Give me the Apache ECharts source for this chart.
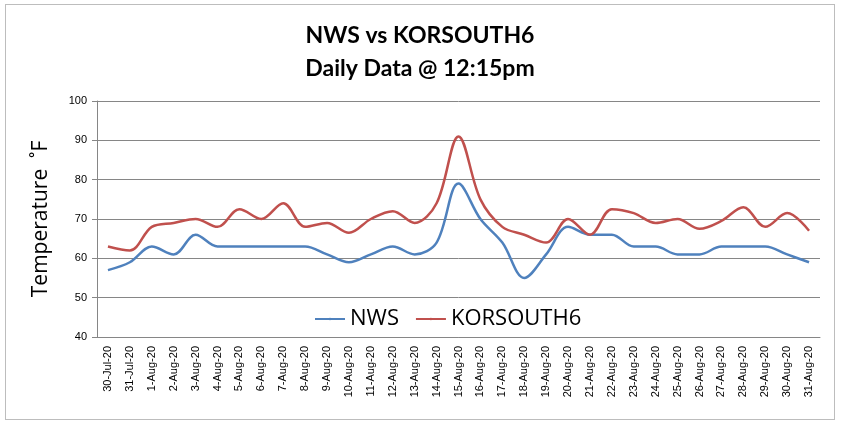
<!DOCTYPE html>
<html>
<head>
<meta charset="utf-8">
<script src="https://cdn.jsdelivr.net/npm/echarts@6/dist/echarts.min.js"></script>
<style>
    html, body { margin: 0; padding: 0; background: #fff; }
    #chart { position: absolute; left: 5px; top: 4px; width: 830px; height: 416px; border: 1px solid #bdbdbd; box-sizing: border-box; }
</style>
</head>
<body>
<div id="chart"></div>
<script>
// 日期
const days = ["30-Jul-20", "31-Jul-20"];
for (let d = 1; d <= 31; d++) days.push(d + "-Aug-20");

// 温度 (°F)
const nws = [57, 59, 63, 61, 66, 63, 63, 63, 63, 63, 61, 59, 61, 63, 61, 64, 79,
             70, 64, 55, 61, 68, 66, 66, 63, 63, 61, 61, 63, 63, 63, 61, 59];
const korsouth6 = [63, 62, 68, 69, 70, 68, 72.5, 70, 74, 68, 69, 66.5, 70, 72, 69, 74, 91,
                   75, 68, 66, 64, 70, 66, 72.5, 71.5, 69, 70, 67.5, 69.5, 73, 68, 71.5, 67];

const yTicks = { min: 40, max: 100, interval: 10 };

let chart = echarts.init(document.getElementById("chart"));
chart.setOption({
    animation: false,
    title: {
        text: "NWS vs KORSOUTH6\nDaily Data @ 12:15pm",
        left: "center",
        top: 9,
        textStyle: { fontFamily: "Lato", fontWeight: "bold", fontSize: 23, lineHeight: 33, color: "#000" }
    },
    legend: {
        data: ["NWS", "KORSOUTH6"],
        left: 303,
        top: 298,
        itemWidth: 30,
        itemHeight: 3,
        itemGap: 16,
        textStyle: { fontFamily: "Open Sans", fontSize: 22, color: "#000" }
    },
    grid: { left: 91, right: 14, top: 96, bottom: 82 },
    xAxis: {
        type: "category",
        data: days,
        boundaryGap: true,
        axisLine: { lineStyle: { color: "#868686" } },
        axisTick: { lineStyle: { color: "#868686" }, length: 5, interval: 0 },
        axisLabel: { rotate: 90, interval: 0, fontSize: 11, fontFamily: "Liberation Sans", color: "#000", margin: 9 }
    },
    yAxis: {
        type: "value",
        min: yTicks.min,
        max: yTicks.max,
        interval: yTicks.interval,
        name: "Temperature  ˚F",
        nameLocation: "middle",
        nameGap: 45,
        nameTextStyle: { fontFamily: "Open Sans", fontSize: 21, color: "#000" },
        axisLine: { show: true, lineStyle: { color: "#868686" } },
        axisTick: { show: true, length: 5, lineStyle: { color: "#868686" } },
        axisLabel: { fontSize: 11, fontFamily: "Liberation Sans", color: "#000", margin: 10 },
        splitLine: { lineStyle: { color: "#868686" } }
    },
    series: [
        {
            name: "NWS", type: "line", data: nws, smooth: 0.35, symbol: "none",
            lineStyle: { width: 2.5, color: "#4F81BD" }, itemStyle: { color: "#4F81BD" }
        },
        {
            name: "KORSOUTH6", type: "line", data: korsouth6, smooth: 0.35, symbol: "none",
            lineStyle: { width: 2.5, color: "#C0504D" }, itemStyle: { color: "#C0504D" }
        }
    ]
});
</script>
</body>
</html>
